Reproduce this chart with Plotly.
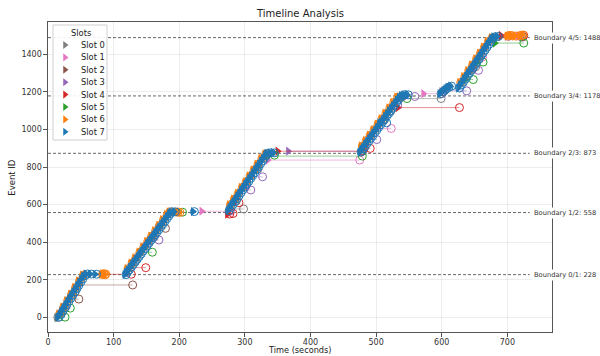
import plotly.graph_objects as go

# ---------------- data ----------------
slot_names = ["Slot 0", "Slot 1", "Slot 2", "Slot 3", "Slot 4", "Slot 5", "Slot 6", "Slot 7"]
slot_colors = ["#7f7f7f", "#e377c2", "#8c564b", "#9467bd", "#d62728", "#2ca02c", "#ff7f0e", "#1f77b4"]

boundary_ids = [228, 558, 873, 1178, 1488]
boundary_labels = ["Boundary 0/1: 228", "Boundary 1/2: 558", "Boundary 2/3: 873",
                   "Boundary 3/4: 1178", "Boundary 4/5: 1488"]

x_ticks = [0, 100, 200, 300, 400, 500, 600, 700]
y_ticks = [0, 200, 400, 600, 800, 1000, 1200, 1400]

# events per slot: (start time, end time, event id)
slot0 = [(13, 15, 0), (40, 42, 140), (131, 133, 300), (160, 162, 430), (275, 298, 577),
         (318, 320, 790), (477, 479, 885), (520, 522, 1095), (540, 599, 1164),
         (650, 652, 1335), (681, 722, 1490)]
slot1 = [(25, 27, 55), (150, 152, 390), (234, 278, 565), (300, 302, 700), (335, 475, 837),
         (502, 523, 1005), (572, 600, 1190), (660, 662, 1385), (716, 718, 1497)]
slot2 = [(47, 129, 173), (32, 47, 98), (167, 179, 474), (285, 287, 620), (480, 482, 900),
         (510, 512, 1050), (645, 647, 1320), (690, 724, 1493)]
slot3 = [(20, 22, 30), (154, 169, 412), (296, 309, 678), (309, 327, 748), (366, 480, 884),
         (488, 501, 946), (526, 533, 1128), (545, 559, 1175), (603, 638, 1205),
         (645, 656, 1314), (700, 702, 1495)]
slot4 = [(57, 127, 230), (125, 149, 265), (273, 277, 550), (275, 282, 553), (282, 291, 610),
         (350, 478, 884), (479, 491, 899), (533, 627, 1116), (600, 602, 1200), (690, 725, 1500)]
slot5 = [(15, 26, 2), (24, 34, 50), (140, 159, 347), (200, 205, 560), (336, 345, 863),
         (335, 479, 858), (533, 547, 1164), (636, 648, 1265), (654, 663, 1358), (681, 725, 1459)]
slot6 = [(16, 18, 20), (22, 24, 55), (28, 30, 90), (34, 36, 125), (40, 42, 160), (46, 48, 195),
         (52, 54, 225), (81, 83, 229), (83, 85, 233), (85, 87, 227), (86, 88, 231),
         (120, 122, 260), (126, 128, 290), (132, 134, 318), (138, 140, 347), (144, 146, 376),
         (150, 152, 405), (156, 158, 433), (162, 164, 462), (168, 170, 490), (174, 176, 520),
         (180, 182, 548), (184, 186, 562), (196, 198, 561), (199, 201, 559),
         (276, 278, 600), (282, 284, 630), (288, 290, 660), (294, 296, 692), (300, 302, 722),
         (306, 308, 753), (312, 314, 785), (318, 320, 815), (324, 326, 846), (330, 332, 870),
         (477, 479, 912), (483, 485, 941), (489, 491, 970), (495, 497, 999), (501, 503, 1028),
         (507, 509, 1057), (513, 515, 1086), (519, 521, 1115), (525, 527, 1144), (531, 533, 1172),
         (627, 629, 1250), (633, 635, 1281), (639, 641, 1313), (645, 647, 1343), (651, 653, 1375),
         (657, 659, 1406), (663, 665, 1437), (669, 671, 1468), (675, 677, 1488),
         (699, 701, 1496), (702, 704, 1500), (706, 708, 1498), (711, 713, 1496),
         (719, 721, 1499), (722, 724, 1502)]
slot7 = [(15, 17, 2), (18, 20, 18), (21, 23, 35), (24, 26, 52), (27, 29, 69), (30, 32, 86),
         (33, 35, 103), (36, 38, 120), (39, 41, 137), (42, 44, 154), (45, 47, 171), (48, 50, 188),
         (51, 53, 205), (54, 56, 222), (58, 60, 231), (64, 66, 231), (72, 74, 230),
         (117, 119, 228), (119, 121, 240), (122, 124, 253), (125, 127, 267), (128, 130, 281),
         (131, 133, 296), (134, 136, 310), (137, 139, 324), (140, 142, 338), (143, 145, 353),
         (146, 148, 367), (149, 151, 381), (152, 154, 396), (155, 157, 410), (158, 160, 424),
         (161, 163, 439), (164, 166, 453), (167, 169, 467), (170, 172, 482), (173, 175, 496),
         (176, 178, 510), (179, 181, 525), (182, 184, 539), (185, 187, 553), (187, 189, 562),
         (192, 194, 562), (221, 223, 563),
         (274, 276, 568), (277, 279, 585), (280, 282, 601), (283, 285, 616), (286, 288, 632),
         (289, 291, 647), (292, 294, 663), (295, 297, 678), (298, 300, 693), (301, 303, 709),
         (304, 306, 724), (307, 309, 740), (310, 312, 755), (313, 315, 770), (316, 318, 786),
         (319, 321, 801), (322, 324, 817), (325, 327, 832), (328, 330, 847), (331, 333, 862),
         (333, 335, 873), (338, 340, 876), (343, 345, 875),
         (475, 477, 880), (478, 480, 895), (481, 483, 909), (484, 486, 924), (487, 489, 938),
         (490, 492, 953), (493, 495, 967), (496, 498, 982), (499, 501, 996), (502, 504, 1011),
         (505, 516, 1035), (505, 507, 1025), (508, 510, 1040), (511, 513, 1054), (514, 516, 1069),
         (517, 519, 1083), (520, 522, 1098), (523, 525, 1112), (526, 528, 1127), (529, 531, 1141),
         (532, 534, 1156), (535, 537, 1170), (538, 540, 1180), (542, 544, 1185), (547, 549, 1184),
         (597, 599, 1190), (600, 602, 1199), (603, 605, 1208), (606, 608, 1217), (609, 611, 1225),
         (613, 615, 1230),
         (625, 627, 1220), (628, 630, 1236), (631, 633, 1251), (634, 636, 1267), (637, 639, 1282),
         (640, 642, 1298), (643, 645, 1313), (646, 648, 1329), (649, 651, 1344), (652, 654, 1360),
         (655, 657, 1375), (658, 660, 1391), (661, 663, 1406), (664, 666, 1422), (667, 669, 1437),
         (670, 672, 1453), (673, 675, 1468), (676, 678, 1484), (679, 681, 1492), (684, 686, 1494)]

slots = [slot0, slot1, slot2, slot3, slot4, slot5, slot6, slot7]

FONT = "DejaVu Sans"

fig = go.Figure()

for name, color, events in zip(slot_names, slot_colors, slots):
    lx, ly = [], []
    for s, e, i in events:
        lx += [s, e, None]
        ly += [i, i, None]
    fig.add_trace(go.Scatter(x=lx, y=ly, mode="lines", opacity=0.5,
                             line=dict(color=color, width=1), showlegend=False, hoverinfo="skip"))
    fig.add_trace(go.Scatter(x=[ev[0] for ev in events], y=[ev[2] for ev in events],
                             mode="markers", name=name, showlegend=False,
                             marker=dict(symbol="triangle-right", size=8, color=color,
                                         line=dict(width=0))))
    fig.add_trace(go.Scatter(x=[ev[1] for ev in events], y=[ev[2] for ev in events],
                             mode="markers", showlegend=False,
                             marker=dict(symbol="circle-open", size=8, color=color,
                                         line=dict(width=1, color=color))))

# ---- manual legend on pixel-like overlay axes ----
box_x = [53, 107, 107, 53, 53]
box_y = [25, 25, 140, 140, 25]
fig.add_trace(go.Scatter(x=box_x, y=box_y, xaxis="x2", yaxis="y2", mode="lines",
                         fill="toself", fillcolor="rgba(255,255,255,0.9)",
                         line=dict(color="#d0d0d0", width=1), showlegend=False, hoverinfo="skip"))
entry_y = [45, 57.4, 69.8, 82.2, 94.6, 107, 119.4, 131.8]
fig.add_trace(go.Scatter(x=[65] * len(slot_names), y=entry_y, xaxis="x2", yaxis="y2",
                         mode="markers", showlegend=False, hoverinfo="skip",
                         marker=dict(symbol="triangle-right", size=7, color=slot_colors)))

annotations = [dict(x=80.5, y=32.5, xref="x2", yref="y2", text="Slots", showarrow=False,
                    font=dict(family=FONT, size=8.3, color="#222"), xanchor="center", yanchor="middle")]
for n, yy in zip(slot_names, entry_y):
    annotations.append(dict(x=79, y=yy, xref="x2", yref="y2", text=n, showarrow=False,
                            font=dict(family=FONT, size=8.3, color="#222"),
                            xanchor="left", yanchor="middle"))

shapes = []
for b, lab in zip(boundary_ids, boundary_labels):
    shapes.append(dict(type="line", xref="x", yref="y", x0=0, x1=734, y0=b, y1=b,
                       layer="below", line=dict(color="#666", width=1, dash="3px,2px")))
    annotations.append(dict(x=737, y=b, xref="x", yref="y", text=lab, showarrow=False,
                            xanchor="left", yanchor="middle", bgcolor="white", borderpad=1,
                            font=dict(family=FONT, size=6.7, color="#333")))

annotations.append(dict(x=0.5, y=1, xref="paper", yref="paper", yshift=9, text="Timeline Analysis",
                        showarrow=False, xanchor="center", yanchor="middle",
                        font=dict(family=FONT, size=10, color="#222")))
annotations.append(dict(x=0.5, y=-0.0774, xref="paper", yref="paper", text="Time (seconds)",
                        showarrow=False, xanchor="center", yanchor="bottom", borderpad=0,
                        font=dict(family=FONT, size=8.2, color="#222")))
annotations.append(dict(x=-0.072, y=0.5, xref="paper", yref="paper", text="Event ID", textangle=-90,
                        showarrow=False, xanchor="center", yanchor="middle",
                        font=dict(family=FONT, size=8.5, color="#222")))

axis_common = dict(showgrid=True, gridcolor="rgba(0,0,0,0.07)", gridwidth=1, zeroline=False,
                   showline=True, linecolor="#555", linewidth=1.2, mirror=True,
                   ticks="outside", ticklen=3.5, tickcolor="#555", tickwidth=1, automargin=False,
                   tickfont=dict(family=FONT, size=8, color="#333"))

fig.update_layout(
    width=600, height=356,
    margin=dict(l=48, r=48, t=22, b=24, autoexpand=False),
    paper_bgcolor="white", plot_bgcolor="white",
    showlegend=False,
    xaxis=dict(range=[0, 768], tickvals=x_ticks, ticktext=[str(v) for v in x_ticks],
               ticklabelstandoff=-1, **axis_common),
    yaxis=dict(range=[-77, 1571], tickvals=y_ticks, ticktext=[str(v) for v in y_ticks], **axis_common),
    xaxis2=dict(overlaying="x", range=[48, 552], visible=False, fixedrange=True, automargin=False),
    yaxis2=dict(overlaying="y", range=[332, 22], visible=False, fixedrange=True, automargin=False),
    shapes=shapes,
    annotations=annotations,
)

fig.write_html("out.html", config={"displayModeBar": False},
               post_script="document.body.style.margin='0';document.body.style.overflow='hidden';")
